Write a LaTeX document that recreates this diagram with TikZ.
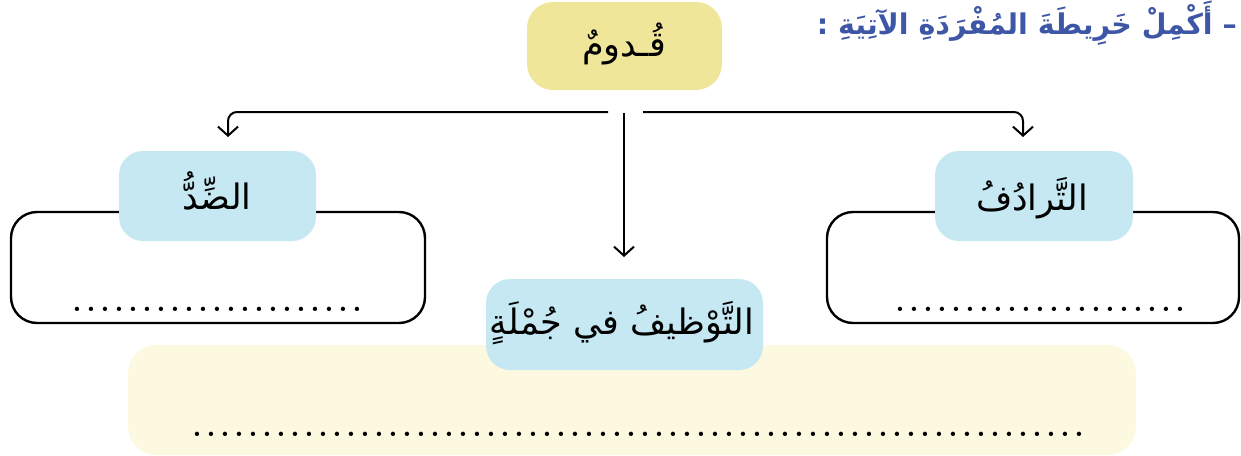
\documentclass[tikz,border=0pt]{standalone}
\usepackage{fontspec}
\usetikzlibrary{arrows.meta}
\TeXXeTstate=1
\newfontfamily\arabicfont[Script=Arabic]{DejaVu Sans}
\definecolor{topyellow}{HTML}{F0E69A}
\definecolor{lblue}{HTML}{C5E8F2}
\definecolor{paleyellow}{HTML}{FCF9E0}
\definecolor{titleblue}{HTML}{3D56A6}
\tikzset{
  bluebox/.style={fill=lblue, rounded corners=24pt, inner sep=0pt},
  outbox/.style={draw=black, line width=2.4pt, rounded corners=26pt, inner sep=0pt},
  lbl/.style={inner sep=0pt, anchor=base, font=\arabicfont\fontsize{35}{40}\selectfont},
  dotrow/.style={inner sep=0pt, anchor=base, font=\bfseries\fontsize{30}{34}\selectfont},
  conn/.style={line width=2pt, rounded corners=9pt, -{Straight Barb[length=9pt,width=20pt,line width=2pt]}},
}
\newcommand{\dotline}[2]{\hbox to #1pt{\xleaders\hbox to #2pt{\hss.\hss}\hfill}}
\begin{document}
\begin{tikzpicture}[x=1pt,y=-1pt]
\useasboundingbox (0,0) rectangle (1241,455);
% title
\node[inner sep=0pt, anchor=base east, text=titleblue, font=\arabicfont\bfseries\fontsize{28.5}{33}\selectfont] (title) at (1237,34) {\beginR – أَكْمِلْ خَرِيطَةَ المُفْرَدَةِ الآتِيَةِ :\endR};
% top box
\node[fill=topyellow, rounded corners=26pt, minimum width=195pt, minimum height=88pt, inner sep=0pt] (top) at (624.5,46) {};
\node[lbl] (toplbl) at (624,56) {\beginR قُـدومٌ\endR};
% connectors
\coordinate (lstart) at (608,112);
\coordinate (rstart) at (643,112);
\coordinate (vstart) at (624,113);
\coordinate (ltip) at (228,137);
\coordinate (rtip) at (1023,137);
\coordinate (vtip) at (624,257);
\draw[conn] (lstart) -| (ltip);
\draw[conn] (rstart) -| (rtip);
\draw[conn, rounded corners=0pt] (vstart) -- (vtip);
% bottom pale box
\node[fill=paleyellow, rounded corners=28pt, minimum width=1008pt, minimum height=110pt, inner sep=0pt] (bottom) at (632,400) {};
\node[dotrow] (dotsb) at (638,436) {\dotline{896}{14}};
% left outlined box
\node[outbox, minimum width=414pt, minimum height=111pt] (lbox) at (218,267.5) {};
\node[bluebox, minimum width=197pt, minimum height=90pt] (lhead) at (217.5,196) {};
\node[lbl] (lhl) at (217,209) {\beginR الضِّدُّ\endR};
\node[dotrow] (dotsl) at (217,311) {\dotline{294}{14}};
% right outlined box
\node[outbox, minimum width=412pt, minimum height=111pt] (rbox) at (1033,267.5) {};
\node[bluebox, minimum width=198pt, minimum height=90pt] (rhead) at (1034,196) {};
\node[lbl] (rhl) at (1032,210) {\beginR التَّرادُفُ\endR};
\node[dotrow] (dotsr) at (1040,311) {\dotline{294}{14}};
% middle box
\node[bluebox, minimum width=277pt, minimum height=91pt] (mid) at (624.5,324.5) {};
\node[lbl] (ml) at (622,334) {\beginR التَّوْظيفُ في جُمْلَةٍ\endR};
\end{tikzpicture}
\end{document}
